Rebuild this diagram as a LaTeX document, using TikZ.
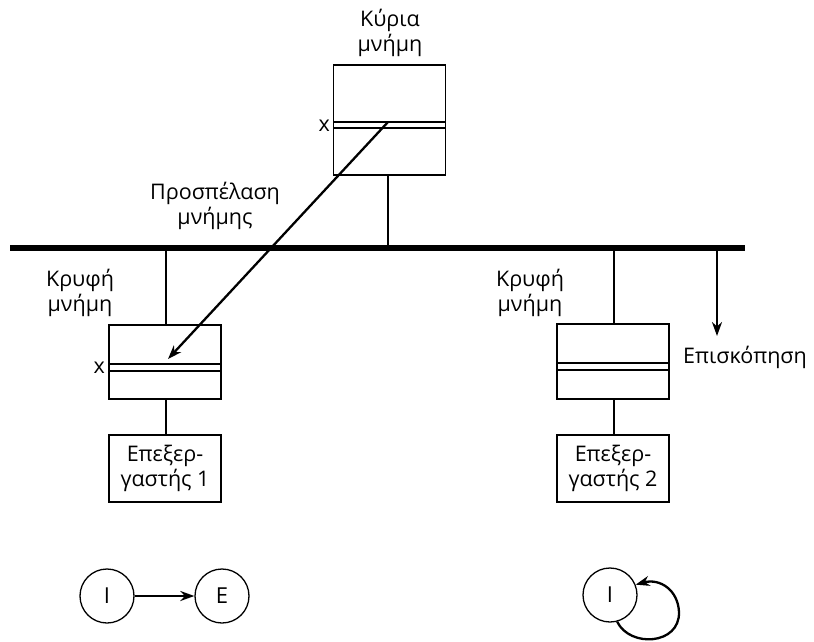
\documentclass[tikz,border=0pt]{standalone}
\usepackage{fontspec}
\setmainfont{Open Sans}
\usetikzlibrary{arrows.meta}
\begin{document}
\begin{tikzpicture}[x=1pt,y=-1pt,
  lbl/.style={font=\fontsize{21.5}{25}\selectfont, align=center, inner sep=0pt},
  membox/.style={draw, line width=1.3pt, minimum width=112pt, inner sep=0pt},
  thin/.style={line width=1.3pt},
  wire/.style={line width=2.3pt},
  bus/.style={line width=6pt},
  state/.style={draw, circle, line width=1.3pt, minimum size=54pt, inner sep=0pt, font=\fontsize{22}{24}\selectfont},
  tip/.style={-{Stealth[length=14pt,width=10pt]}}
]
\useasboundingbox (0,0) rectangle (814,642);

% bus
\coordinate (busL) at (10,248);
\coordinate (busR) at (745,248);
\draw[bus] (busL) -- (busR);

% main memory
\node[membox, minimum height=110pt] (mm) at (389.5,120) {};
\draw[thin] (333.5,122) -- (445.5,122) (333.5,128) -- (445.5,128);
\node[lbl] (mmlbl) at (390,33) {Κύρια\\μνήμη};
\node[lbl, anchor=east] (mmx) at (330,126) {x};
\coordinate (mmbus) at (388,248);
\draw[wire] (mm.south -| mmbus) -- (mmbus);

% left cache
\node[membox, minimum height=74pt] (c1) at (165,362) {};
\draw[thin] (109,364) -- (221,364) (109,371) -- (221,371);
\node[lbl] (c1lbl) at (80,293) {Κρυφή\\μνήμη};
\node[lbl, anchor=east] (c1x) at (105,368) {x};
\coordinate (c1bus) at (166,248);
\draw[wire] (c1bus) -- (c1.north -| c1bus);

% right cache
\node[membox, minimum height=75pt] (c2) at (613,361.5) {};
\draw[thin] (557,363) -- (669,363) (557,370) -- (669,370);
\node[lbl] (c2lbl) at (530,293) {Κρυφή\\μνήμη};
\coordinate (c2bus) at (614,248);
\draw[wire] (c2bus) -- (c2.north -| c2bus);

% processors
\node[membox, minimum height=67pt, lbl] (p1) at (165,468.5) {Επεξερ-\\γαστής 1};
\node[membox, minimum height=67pt, lbl] (p2) at (613,468.5) {Επεξερ-\\γαστής 2};
\draw[wire] (c1.south -| c1bus) -- (p1.north -| c1bus);
\draw[wire] (c2.south -| c2bus) -- (p2.north -| c2bus);

% memory access
\coordinate (accfrom) at (388,122);
\coordinate (accto) at (168,359);
\draw[wire, tip] (accfrom) -- (accto);
\node[lbl] (acclbl) at (215,206) {Προσπέλαση\\μνήμης};

% snooping
\coordinate (snpfrom) at (717,248);
\coordinate (snpto) at (717,336);
\draw[wire, tip] (snpfrom) -- (snpto);
\node[lbl] (snplbl) at (745,357) {Επισκόπηση};

% state diagrams
\node[state] (sI1) at (107,596) {I};
\node[state] (sE) at (222,596) {E};
\draw[wire, tip] (sI1) -- (sE);

\node[state] (sI2) at (610,595) {I};
\draw[wire, tip] (sI2.-75) .. controls (630,648) and (680,645) .. (679,612)
  .. controls (678,590) and (660,578) .. (sI2.22);
\end{tikzpicture}
\end{document}
